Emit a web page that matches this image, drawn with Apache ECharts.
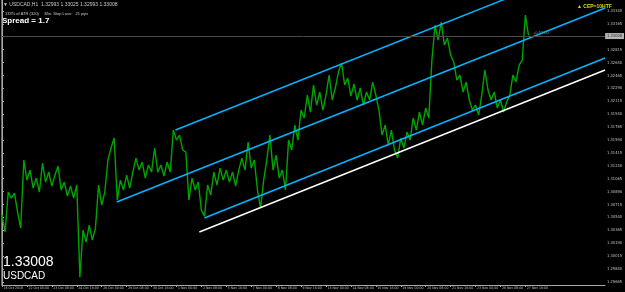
<!DOCTYPE html>
<html><head><meta charset="utf-8">
<script src="https://cdn.jsdelivr.net/npm/echarts@6/dist/echarts.min.js"></script>
<style>html,body{margin:0;padding:0;background:#000;}#c{width:625px;height:292px;}</style>
</head><body><div id="c"></div>
<script>
const symbol = 'USDCAD';
const timeframe = 'H1';
const ohlc = ['1.32993', '1.33025', '1.32993', '1.33008'];
const lastPrice = 1.33008;
const spreadText = 'Spread = 1.7';
const atrText = '133% of ATR (320)     Min. Stop Loss:   21 pips';
const signalText = '\u25B2 CEP=10HTF';
const timerText = '+0:52:00';
const barsPerPoint = 4;
const closes = [
1.30571,1.30341,1.30884,1.30802,1.30870,1.30612,1.30395,1.31318,1.31046,1.31182,
1.30938,1.31074,1.30884,1.31277,1.31019,1.31155,1.30965,1.31114,1.31236,1.30911,
1.31019,1.30829,1.30965,1.30802,1.30979,1.29730,1.30368,1.30205,1.30436,1.30232,
1.30395,1.30979,1.30707,1.30884,1.31318,1.31481,1.31616,1.30775,1.31046,1.30911,
1.31114,1.30938,1.31155,1.31345,1.31182,1.31291,1.31074,1.31250,1.31155,1.31481,
1.31155,1.31250,1.31101,1.31291,1.31155,1.31725,1.31589,1.31657,1.31454,1.31426,
1.30775,1.31074,1.30911,1.31019,1.30639,1.30558,1.30979,1.30843,1.31155,1.30979,
1.31209,1.31046,1.31182,1.31019,1.31155,1.30965,1.31182,1.31345,1.31182,1.31562,
1.31209,1.31318,1.30911,1.30666,1.31046,1.31318,1.31657,1.31182,1.31386,1.31074,
1.31182,1.30911,1.31589,1.31454,1.31793,1.31589,1.31996,1.31888,1.32200,1.31969,
1.32336,1.32064,1.32241,1.31996,1.32200,1.32471,1.32132,1.32295,1.32512,1.32634,
1.32336,1.32431,1.32186,1.32349,1.32132,1.32295,1.32064,1.32241,1.32132,1.32376,
1.32200,1.31996,1.31657,1.31793,1.31521,1.31725,1.31454,1.31345,1.31616,1.31481,
1.31698,1.31589,1.31888,1.31725,1.31969,1.31793,1.32023,1.31888,1.32675,1.33150,
1.32946,1.33190,1.32878,1.32973,1.32743,1.32648,1.32403,1.32471,1.32241,1.32376,
1.32132,1.31996,1.32064,1.31928,1.32200,1.32539,1.32268,1.32132,1.32241,1.32023,
1.32132,1.31969,1.32105,1.32200,1.32471,1.32376,1.32607,1.32675,1.33285,1.33008
];
const timeLabelStep = 32;
const timeLabels = ['18 Oct 2018','22 Oct 00:00','23 Oct 08:00','24 Oct 16:00','26 Oct 00:00','29 Oct 08:00',
'30 Oct 16:00','1 Nov 00:00','2 Nov 08:00','5 Nov 16:00','7 Nov 00:00','8 Nov 08:00','9 Nov 16:00',
'13 Nov 00:00','14 Nov 08:00','15 Nov 16:00','19 Nov 00:00','20 Nov 08:00','21 Nov 16:00','23 Nov 00:00',
'26 Nov 08:00','27 Nov 16:00'];
const priceTicks = [1.33340,1.33165,1.32815,1.32640,1.32465,1.32290,1.32115,1.31940,1.31765,1.31590,
1.31415,1.31240,1.31065,1.30890,1.30715,1.30540,1.30365,1.30190,1.30015,1.29840,1.29665];
// trend lines: [barIndex, price]
const channelUpper = [[222.7, 1.31725],[774.4, 1.34041]];
const channelMiddle = [[147.2, 1.30748],[774.4, 1.33380]];
const channelLower = [[259.8, 1.30531],[774.4, 1.32702]];
const supportLine = [[253.4, 1.30341],[774.4, 1.32539]];
const priceMin = 1.29623, priceMax = 1.33489, barMax = 774.4;

const chart = echarts.init(document.getElementById('c'), null, {renderer:'canvas'});
const tickBars = timeLabels.map((_, i) => i * timeLabelStep);
const lineSeries = (data, color, w) => ({type:'line', data, showSymbol:false, symbol:'none', silent:true,
  lineStyle:{color, width:w}, clip:true, z:4, animation:false});
const FONT = '"Liberation Sans", Arial, sans-serif';
const NARROW = '"Liberation Sans Narrow", "DejaVu Sans Condensed", "Liberation Sans", sans-serif';
chart.setOption({
  backgroundColor:'#000',
  animation:false,
  grid:{left:2, right:18, top:0, bottom:7, containLabel:false},
  xAxis:{type:'value', min:0, max:barMax,
    axisLine:{show:true, lineStyle:{color:'#a8a8a8', width:1}},
    axisTick:{show:true, customValues:tickBars, length:2, lineStyle:{color:'#a8a8a8'}},
    axisLabel:{show:true, customValues:tickBars, formatter:v => timeLabels[Math.round(v/timeLabelStep)],
      color:'#c0c0c0', fontSize:3.5, fontFamily:NARROW, align:'left', margin:1.5, padding:[0,0,0,1.5]},
    splitLine:{show:false}},
  yAxis:{type:'value', position:'right', min:priceMin, max:priceMax, scale:true,
    axisLine:{show:true, lineStyle:{color:'#a8a8a8', width:1}},
    axisTick:{show:true, customValues:priceTicks, length:2, lineStyle:{color:'#a8a8a8'}},
    axisLabel:{show:true, customValues:priceTicks, formatter:v => v.toFixed(5),
      color:'#c0c0c0', fontSize:4, fontFamily:NARROW, margin:2},
    splitLine:{show:false}},
  series:[
    Object.assign(lineSeries(closes.map((v,i)=>[i*barsPerPoint, v]), '#00a400', 1.4), {z:3,
      markLine:{silent:true, symbol:'none', animation:false,
        lineStyle:{color:'#4a4a4a', type:'solid', width:1},
        label:{show:true, position:'end', formatter:lastPrice.toFixed(5), fontSize:4, fontFamily:NARROW,
          color:'#303030', backgroundColor:'#b4b4b4', padding:[1,2,1,2], distance:0},
        data:[{yAxis:lastPrice}]}}),
    lineSeries(channelUpper, '#00b4ff', 1.5),
    lineSeries(channelMiddle, '#00b4ff', 1.5),
    lineSeries(channelLower, '#00b4ff', 1.5),
    lineSeries(supportLine, '#ffffff', 1.5)
  ],
  graphic:[
    {type:'rect', shape:{x:1, y:0, width:1, height:285}, style:{fill:'#6a6a6a'}, silent:true},
    {type:'text', left:3, top:2, style:{text:'\u25BC ' + symbol + ',' + timeframe + '  ' + ohlc.join(' '), fill:'#c8c8c8', font:'5px ' + FONT}},
    {type:'text', left:5, top:12, style:{text:atrText, fill:'#c8c8c8', font:'4px ' + FONT}},
    {type:'text', left:2, top:17, style:{text:spreadText, fill:'#ffffff', font:'bold 8px ' + FONT}},
    {type:'text', left:3, top:255, style:{text:lastPrice.toFixed(5), fill:'#ffffff', font:'14px ' + FONT}},
    {type:'text', left:3, top:271, style:{text:symbol, fill:'#ffffff', font:'10px ' + FONT}},
    {type:'text', left:577, top:4, style:{text:signalText, fill:'#e8d800', font:'bold 5px ' + FONT}},
    {type:'text', left:533, top:31, style:{text:timerText, fill:'#8a8a8a', font:'4px ' + FONT}}
  ]
});
</script></body></html>
